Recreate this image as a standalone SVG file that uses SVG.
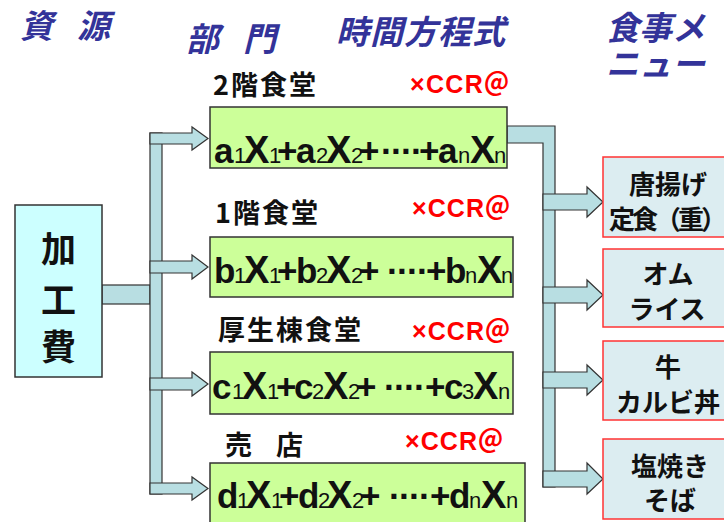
<svg xmlns="http://www.w3.org/2000/svg" width="724" height="522" viewBox="0 0 724 522">
<style>
.hdr{font-family:"Noto Sans CJK JP","Liberation Sans",sans-serif;font-weight:bold;font-style:italic;fill:#333399;font-size:33px}
.lbl{font-family:"Noto Sans CJK JP","Liberation Sans",sans-serif;font-weight:bold;fill:#111;font-size:27px;letter-spacing:2px}
.ccr{font-family:"Liberation Sans","Noto Sans CJK JP",sans-serif;font-weight:bold;fill:#ff0000;font-size:25px}
.f{font-family:"Liberation Sans",Arial,sans-serif;font-weight:bold;fill:#111;font-size:35px}
.f .X{font-size:38px}
.f .s{font-size:22px;font-weight:normal}
.menu{font-family:"Noto Sans CJK JP",sans-serif;font-weight:bold;fill:#111;font-size:26px;text-anchor:middle}
.src{font-family:"Noto Sans CJK JP",sans-serif;font-weight:bold;fill:#111;font-size:35px;text-anchor:middle}
.arr{fill:#b8dee2;stroke:#333;stroke-width:1.2}
.gbox{fill:#ccff99;stroke:#333;stroke-width:1.5}
.mbox{fill:#dcedf1;stroke:#ff3333;stroke-width:1.5}
</style>

<!-- headers -->
<text class="hdr" y="38"><tspan x="20">資</tspan><tspan x="77">源</tspan></text>
<text class="hdr" y="51"><tspan x="186">部</tspan><tspan x="243">門</tspan></text>
<text class="hdr" x="336" y="44" letter-spacing="1">時間方程式</text>
<text class="hdr" x="606" y="40" font-size="28">食事メ</text>
<text class="hdr" x="606" y="76" font-size="28">ニュー</text>

<!-- connectors -->
<g id="connectors">
  <rect class="arr" x="102" y="285" width="48" height="19"/>
  <rect class="arr" x="150" y="133" width="12" height="361"/>
  <polygon class="arr" points="150,133 192,133 192,127 208,138.5 192,150 192,144 150,144"/>
  <polygon class="arr" points="150,261 192,261 192,255 208,267 192,279 192,273 150,273"/>
  <polygon class="arr" points="150,378 192,378 192,372 208,384 192,396 192,390 150,390"/>
  <polygon class="arr" points="150,483 192,483 192,477 208,488.5 192,500 192,494 150,494"/>
  <path class="arr" d="M507,126 H555 V487 H543 V143 H507 Z"/>
  <polygon class="arr" points="543,194 587,194 587,187 603,202 587,217 587,210 543,210"/>
  <polygon class="arr" points="543,287 587,287 587,280 603,295 587,310 587,303 543,303"/>
  <polygon class="arr" points="543,372 587,372 587,365 603,380 587,395 587,388 543,388"/>
  <polygon class="arr" points="543,471 587,471 587,463 603,479 587,494 587,487 543,487"/>
</g>

<!-- source node -->
<g id="kakouhi">
  <rect x="15" y="205" width="87" height="172" fill="#ccffff" stroke="#333" stroke-width="1.5"/>
  <text class="src" x="58.5" y="262">加</text>
  <text class="src" x="58.5" y="313">工</text>
  <text class="src" x="58.5" y="360">費</text>
</g>

<!-- departments -->
<g id="dept2f">
  <text class="lbl" x="213" y="95">2階食堂</text>
  <text class="ccr" x="410" y="93" textLength="99">×CCR＠</text>
  <rect class="gbox" x="210" y="107" width="297" height="61"/>
  <text class="f" y="163"><tspan x="214">a</tspan><tspan class="s" x="234">1</tspan><tspan class="X" x="244">X</tspan><tspan class="s" x="269">1</tspan><tspan x="277">+</tspan><tspan x="296">a</tspan><tspan class="s" x="316">2</tspan><tspan class="X" x="326">X</tspan><tspan class="s" x="351">2</tspan><tspan x="359">+</tspan><tspan x="381 391 401 411">····</tspan><tspan x="419">+</tspan><tspan x="438">a</tspan><tspan class="s" x="458">n</tspan><tspan class="X" x="470">X</tspan><tspan class="s" x="494">n</tspan></text>
</g>
<g id="dept1f">
  <text class="lbl" x="215" y="223">1階食堂</text>
  <text class="ccr" x="412" y="217" textLength="98">×CCR＠</text>
  <rect class="gbox" x="210" y="237" width="303" height="60"/>
  <text class="f" y="283"><tspan x="214">b</tspan><tspan class="s" x="234">1</tspan><tspan class="X" x="244">X</tspan><tspan class="s" x="269">1</tspan><tspan x="277">+</tspan><tspan x="296">b</tspan><tspan class="s" x="316">2</tspan><tspan class="X" x="326">X</tspan><tspan class="s" x="351">2</tspan><tspan x="359">+</tspan><tspan x="387 397 407 417">····</tspan><tspan x="426">+</tspan><tspan x="445">b</tspan><tspan class="s" x="465">n</tspan><tspan class="X" x="477">X</tspan><tspan class="s" x="501">n</tspan></text>
</g>
<g id="kouseitou">
  <text class="lbl" x="218" y="340">厚生棟食堂</text>
  <text class="ccr" x="412" y="340" textLength="98">×CCR＠</text>
  <rect class="gbox" x="210" y="352" width="303" height="62"/>
  <text class="f" y="399"><tspan x="212">c</tspan><tspan class="s" x="232">1</tspan><tspan class="X" x="242">X</tspan><tspan class="s" x="267">1</tspan><tspan x="276">+</tspan><tspan x="294">c</tspan><tspan class="s" x="312">2</tspan><tspan class="X" x="323">X</tspan><tspan class="s" x="348">2</tspan><tspan x="356">+</tspan><tspan x="384 394 404 414">····</tspan><tspan x="425">+</tspan><tspan x="444">c</tspan><tspan class="s" x="462">3</tspan><tspan class="X" x="473">X</tspan><tspan class="s" x="498">n</tspan></text>
</g>
<g id="baiten">
  <text class="lbl" y="455"><tspan x="225">売</tspan><tspan x="276">店</tspan></text>
  <text class="ccr" x="405" y="450" textLength="98">×CCR＠</text>
  <rect class="gbox" x="210" y="463" width="315" height="62"/>
  <text class="f" y="508"><tspan x="217">d</tspan><tspan class="s" x="237">1</tspan><tspan class="X" x="246">X</tspan><tspan class="s" x="271">1</tspan><tspan x="279">+</tspan><tspan x="298">d</tspan><tspan class="s" x="318">2</tspan><tspan class="X" x="327">X</tspan><tspan class="s" x="352">2</tspan><tspan x="360">+</tspan><tspan x="389 399 409 419">····</tspan><tspan x="430">+</tspan><tspan x="449">d</tspan><tspan class="s" x="469">n</tspan><tspan class="X" x="481">X</tspan><tspan class="s" x="506">n</tspan></text>
</g>

<!-- menus -->
<g id="karaage">
  <rect class="mbox" x="603" y="157" width="130" height="80"/>
  <text class="menu" x="668" y="194">唐揚げ</text>
  <text class="menu" x="609" y="229" font-size="23" letter-spacing="-3" style="text-anchor:start">定食（重）</text>
</g>
<g id="omurice">
  <rect class="mbox" x="603" y="249" width="130" height="78"/>
  <text class="menu" x="668" y="284">オム</text>
  <text class="menu" x="667" y="319">ライス</text>
</g>
<g id="gyudon">
  <rect class="mbox" x="603" y="341" width="130" height="79"/>
  <text class="menu" x="668" y="377">牛</text>
  <text class="menu" x="668" y="412">カルビ丼</text>
</g>
<g id="shioyakisoba">
  <rect class="mbox" x="603" y="439" width="130" height="80"/>
  <text class="menu" x="670" y="476">塩焼き</text>
  <text class="menu" x="670" y="510">そば</text>
</g>
</svg>
